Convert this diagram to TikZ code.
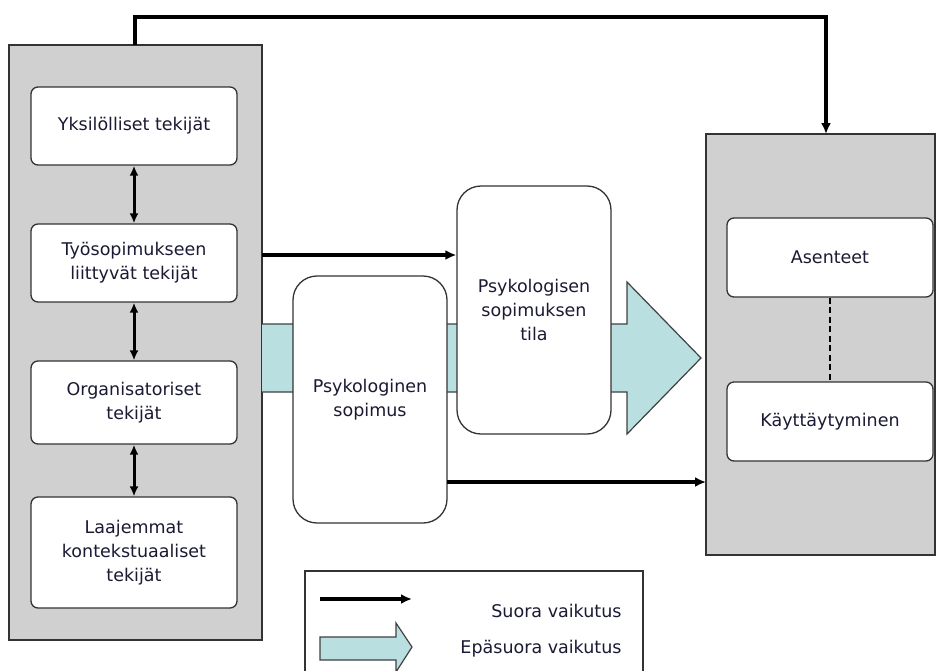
\documentclass[tikz,border=0pt]{standalone}
\usepackage{fontspec}
\setmainfont{DejaVu Sans}
\usetikzlibrary{arrows.meta}
\definecolor{boxgray}{HTML}{D0D0D0}
\definecolor{lightcyan}{HTML}{B9DFE0}
\definecolor{txt}{HTML}{1A1A33}
\tikzset{
  panel/.style={draw=black!80, fill=boxgray, line width=1.3pt},
  smallbox/.style={draw=black!80, fill=white, rounded corners=7pt, line width=1.3pt, minimum width=206pt, align=center, text=txt, font=\fontsize{17.5}{24}\selectfont},
  bigbox/.style={draw=black!80, fill=white, rounded corners=24pt, line width=1.3pt, minimum width=154pt, align=center, text=txt, font=\fontsize{17.5}{24}\selectfont},
  direct/.style={line width=3.6pt, -{Latex[length=11pt,width=10pt]}},
  both/.style={line width=3pt, {Latex[length=10pt,width=9pt]}-{Latex[length=10pt,width=9pt]}},
  fat/.style={draw=black!75, fill=lightcyan, line width=1.2pt},
  lbl/.style={text=txt, font=\fontsize{17.5}{20}\selectfont, anchor=east}
}
\begin{document}
\begin{tikzpicture}[x=1pt,y=-1pt]
\useasboundingbox (0,0) rectangle (936,670);
\clip (0,0) rectangle (936,670);
\fill[white] (0,0) rectangle (936,670);
% panels
\draw[panel] (9,45) rectangle (262,640);
\draw[panel] (706,134) rectangle (935,555);
% wide arrow
\draw[fat] (262,324) -- (627,324) -- (627,282) -- (701,358) -- (627,434) -- (627,392) -- (262,392);
% left boxes
\node[smallbox, minimum height=78pt] (yks) at (134,126) {Yksilölliset tekijät};
\node[smallbox, minimum height=78pt] (tyo) at (134,263) {Työsopimukseen\\liittyvät tekijät};
\node[smallbox, minimum height=83pt] (org) at (134,402.5) {Organisatoriset\\tekijät};
\node[smallbox, minimum height=111pt] (laa) at (134,552.5) {Laajemmat\\kontekstuaaliset\\tekijät};
% right boxes
\node[smallbox, minimum height=79pt] (ase) at (830,257.5) {Asenteet};
\node[smallbox, minimum height=79pt] (kay) at (830,421.5) {Käyttäytyminen};
% center boxes
\node[bigbox, minimum height=247pt] (sop) at (370,399.5) {Psykologinen\\sopimus};
\node[bigbox, minimum height=248pt] (tila) at (534,310) {Psykologisen\\sopimuksen\\tila};
% connectors
\coordinate (topstart) at (135,45);
\coordinate (topend) at (826,134);
\draw[direct] (topstart) -- (135,17) -- (826,17) -- (topend);
\draw[both] (yks.south) -- (tyo.north);
\draw[both] (tyo.south) -- (org.north);
\draw[both] (org.south) -- (laa.north);
\coordinate (tyoR) at (262,255);
\draw[direct] (tyoR) -- (tyoR -| tila.west);
\coordinate (sopR) at (447,482);
\coordinate (rpanelL) at (706,482);
\draw[direct] (sopR) -- (rpanelL);
\draw[line width=2.4pt, dash pattern=on 6pt off 3.5pt] (ase.south) -- (kay.north);
% legend
\draw[draw=black!80, fill=white, line width=1.3pt] (305,571) rectangle (643,690);
\coordinate (l1a) at (320,599);
\coordinate (l1b) at (412,599);
\draw[direct] (l1a) -- (l1b);
\node[lbl] (l1) at (625,611) {Suora vaikutus};
\draw[fat] (320,637) -- (396,637) -- (396,623) -- (412,647) -- (396,672) -- (396,660) -- (320,660) -- cycle;
\node[lbl] (l2) at (625,649) {Epäsuora vaikutus};
\end{tikzpicture}
\end{document}
